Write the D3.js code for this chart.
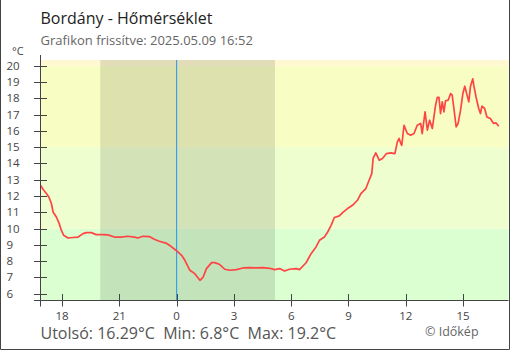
<!DOCTYPE html>
<html><head><meta charset="utf-8">
<script src="https://cdn.jsdelivr.net/npm/d3@7/dist/d3.min.js"></script>
<style>body{margin:0;background:#fff}svg{display:block;font-family:"Open Sans",sans-serif}</style>
</head><body>
<script>
// Hours relative to 2025-05-09 00:00
const hours = [-7.13,-6.99,-6.82,-6.68,-6.56,-6.47,-6.30,-6.16,-6.04,-5.92,-5.69,-5.43,-5.16,-4.90,-4.73,-4.47,-4.21,-3.86,-3.60,-3.26,-2.91,-2.56,-2.21,-2.03,-1.77,-1.43,-1.17,-0.91,-0.56,-0.30,-0.04,
0.26,0.43,0.69,0.95,1.22,1.39,1.56,1.83,2.00,2.26,2.52,2.78,3.13,3.47,3.82,4.17,4.52,4.87,5.13,5.39,5.65,5.91,6.26,6.43,
6.78,7.04,7.30,7.48,7.74,7.91,8.09,8.26,8.52,8.69,8.95,9.21,9.47,9.65,9.91,10.08,10.22,10.29,10.43,10.61,10.78,10.99,11.22,11.43,11.56,11.65,11.74,11.79,11.91,12.08,12.26,12.43,12.60,12.78,12.86,13.01,13.13,13.25,13.39,13.56,13.65,13.74,13.82,13.91,14.00,14.08,14.22,14.35,14.43,14.52,14.64,14.74,14.87,14.99,15.09,15.21,15.30,15.39,15.51,15.56,15.68,15.82,15.91,15.99,16.13,16.25,16.43,16.60,16.72,16.87];
const temps = [12.66,12.40,12.15,11.91,11.54,11.02,10.71,10.34,9.90,9.59,9.42,9.45,9.48,9.69,9.75,9.75,9.63,9.63,9.61,9.48,9.47,9.53,9.47,9.42,9.53,9.51,9.34,9.22,9.11,8.91,8.67,
8.36,8.05,7.44,7.23,6.82,7.02,7.54,7.91,7.91,7.79,7.50,7.44,7.48,7.58,7.60,7.58,7.60,7.56,7.48,7.54,7.39,7.50,7.54,7.48,
7.90,8.46,8.87,9.28,9.48,9.79,10.20,10.68,10.78,10.98,11.23,11.43,11.74,12.15,12.46,12.97,13.38,14.31,14.65,14.20,14.31,14.61,14.65,14.61,15.33,15.54,15.23,15.12,16.35,15.84,15.74,15.84,16.35,16.46,15.84,17.17,16.05,16.66,16.15,17.58,18.06,18.06,17.07,17.79,17.17,17.85,17.89,18.30,18.20,17.38,16.25,16.46,17.28,18.30,18.75,18.20,17.79,18.75,19.20,18.81,18.09,17.38,17.07,17.52,17.38,16.86,16.76,16.46,16.50,16.29];
const yTicks = [6,7,8,9,10,11,12,13,14,15,16,17,18,19,20];
const xTicks = [-6,-3,0,3,6,9,12,15];
const xTickLabels = ["18","21","0","3","6","9","12","15"];
const bandLimits = [[5.58,10],[10,15],[15,20],[20,20.36]];
const bandColors = ["#dbffd1","#effecf","#f8fdc4","#fff8d0"];
const night = [-4.0, 5.15];
const title = "Bordány - Hőmérséklet";
const subtitle = "Grafikon frissítve: 2025.05.09 16:52";
const footer = "Utolsó: 16.29°C  Min: 6.8°C  Max: 19.2°C";
const credit = "© Időkép";

const W=510,H=350;
const svg=d3.select("body").append("svg").attr("width",W).attr("height",H);
const x=d3.scaleLinear().domain([-7.13,17.38]).range([40.5,508.5]);
const y=d3.scaleLinear().domain([5.58,20.36]).range([300.5,60]);

svg.selectAll("rect.band").data(bandLimits).join("rect")
  .attr("x",x(-7.13)).attr("width",x(17.38)-x(-7.13))
  .attr("y",d=>y(d[1])).attr("height",d=>y(d[0])-y(d[1]))
  .attr("fill",(d,i)=>bandColors[i]);
svg.append("rect").attr("x",x(night[0])).attr("width",x(night[1])-x(night[0]))
  .attr("y",y(20.36)).attr("height",y(5.58)-y(20.36)).attr("fill","#000").attr("opacity",0.11);
svg.append("line").attr("x1",x(0)).attr("x2",x(0)).attr("y1",y(20.36)).attr("y2",y(5.58))
  .attr("stroke","#2196f3").attr("stroke-width",1);

const line=d3.line().x((d,i)=>x(hours[i])).y(d=>y(d));
svg.append("path").datum(temps).attr("d",line).attr("fill","none")
  .attr("stroke","#ff4444").attr("stroke-width",1.7).attr("stroke-linejoin","round");

const axc="#444";
svg.append("line").attr("x1",x(-7.13)).attr("x2",x(-7.13)).attr("y1",55).attr("y2",306.5).attr("stroke",axc);
svg.append("line").attr("x1",34).attr("x2",508.5).attr("y1",y(5.58)).attr("y2",y(5.58)).attr("stroke",axc);
svg.selectAll("line.yt").data(yTicks).join("line")
  .attr("x1",34).attr("x2",47).attr("y1",d=>Math.round(y(d))+0.5).attr("y2",d=>Math.round(y(d))+0.5).attr("stroke",axc);
svg.selectAll("line.xt").data(xTicks).join("line")
  .attr("x1",d=>Math.round(x(d))+0.5).attr("x2",d=>Math.round(x(d))+0.5).attr("y1",294).attr("y2",306.5).attr("stroke",axc);
svg.selectAll("text.yl").data(yTicks).join("text")
  .attr("x",6.5).attr("y",d=>y(d)+4).attr("font-size",11.5).attr("fill","#444").text(d=>d);
svg.selectAll("text.xl").data(xTicks).join("text")
  .attr("x",d=>x(d)).attr("y",319.5).attr("text-anchor","middle").attr("font-size",11.5).attr("fill","#444")
  .text((d,i)=>xTickLabels[i]);

svg.append("text").attr("x",12).attr("y",55).attr("font-size",11).attr("fill","#444").text("°C");
svg.append("text").attr("x",40.5).attr("y",24).attr("font-size",16).attr("fill","#222").text(title);
svg.append("text").attr("x",40.5).attr("y",45).attr("font-size",13).attr("fill","#666").text(subtitle);
svg.append("text").attr("x",40.5).attr("y",339).attr("font-size",16).attr("fill","#555").style("white-space","pre").text(footer);
svg.append("text").attr("x",425).attr("y",336).attr("font-size",12.5).attr("fill","#666").text(credit);

svg.append("path").attr("d","M0.5,0 V349.5 H509.5 V0").attr("fill","none").attr("stroke","#444");
</script>
</body></html>
